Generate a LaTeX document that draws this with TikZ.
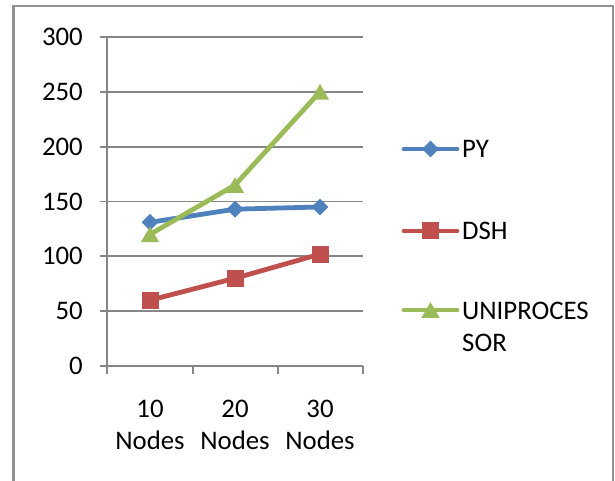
\documentclass[tikz,border=0pt]{standalone}
\usepackage{fontspec}
\setmainfont{Carlito}
\usepackage{xcolor}
\usepackage{tikz}
\usetikzlibrary{shapes.geometric}

\definecolor{pyblue}{HTML}{4F81BD}
\definecolor{dshred}{HTML}{C0504D}
\definecolor{unigreen}{HTML}{9BBB59}
\definecolor{gridgray}{HTML}{868686}

\tikzset{
    series/.style={line width=4.8pt, line join=round, line cap=round},
    pymark/.style={diamond, fill=pyblue, inner sep=0pt, minimum width=17pt, minimum height=17pt},
    dshmark/.style={rectangle, fill=dshred, inner sep=0pt, minimum size=17pt},
    unimark/.style={regular polygon, regular polygon sides=3, fill=unigreen, inner sep=0pt, minimum size=21pt, yshift=-2.6pt},
    lbl/.style={font=\fontsize{26.8}{32}\selectfont, inner sep=0pt},
}

\begin{document}
\begin{tikzpicture}[x=1pt, y=1pt]
    \useasboundingbox (0,0) rectangle (615,481);

    % Frame
    \draw[gridgray!90, line width=2.5pt] (13.5,-5) -- (13.5,475) -- (613,475) -- (613,-5);

    \begin{scope}[shift={(0,115)}, y=1.0967pt]
        % Grid and value labels
        \foreach \v in {0,50,...,300}
        {
            \draw[gridgray, line width=1.8pt] (100,\v) -- (363,\v);
            \node[lbl, anchor=east] (val\v) at (83,\v) {\v};
        }

        % Axes
        \draw[gridgray, line width=1.8pt] (107,0) -- (107,300);
        \foreach \t in {107,193,278,363}
            \draw[gridgray, line width=1.8pt] (\t,0) -- (\t,-7.5);

        % Categories
        \node[lbl, align=center, anchor=north] (cat10) at (150,-31.0) {10\\Nodes};
        \node[lbl, align=center, anchor=north] (cat20) at (235,-31.0) {20\\Nodes};
        \node[lbl, align=center, anchor=north] (cat30) at (320,-31.0) {30\\Nodes};

        % Series PY
        \coordinate (py1) at (150,131);
        \coordinate (py2) at (235,143);
        \coordinate (py3) at (320,145);
        \draw[series, pyblue] (py1) -- (py2) -- (py3);
        \node[pymark] (py1m) at (py1) {};
        \node[pymark] (py2m) at (py2) {};
        \node[pymark] (py3m) at (py3) {};

        % Series DSH
        \coordinate (dsh1) at (150,60);
        \coordinate (dsh2) at (235,80);
        \coordinate (dsh3) at (320,102);
        \draw[series, dshred] (dsh1) -- (dsh2) -- (dsh3);
        \node[dshmark] (dsh1m) at (dsh1) {};
        \node[dshmark] (dsh2m) at (dsh2) {};
        \node[dshmark] (dsh3m) at (dsh3) {};

        % Series UNIPROCESSOR
        \coordinate (uni1) at (150,120);
        \coordinate (uni2) at (235,165);
        \coordinate (uni3) at (320,250);
        \draw[series, unigreen] (uni1) -- (uni2) -- (uni3);
        \node[unimark] (uni1m) at (uni1) {};
        \node[unimark] (uni2m) at (uni2) {};
        \node[unimark] (uni3m) at (uni3) {};
    \end{scope}

    % Legend
    \coordinate (pyA) at (404,332);
    \coordinate (pyB) at (457,332);
    \draw[series, pyblue] (pyA) -- (pyB);
    \node[pymark] (pyL) at (430.5,332) {};
    \node[lbl, anchor=west] (pyT) at (462,332) {PY};

    \coordinate (dshA) at (404,250);
    \coordinate (dshB) at (457,250);
    \draw[series, dshred] (dshA) -- (dshB);
    \node[dshmark] (dshL) at (430.5,250) {};
    \node[lbl, anchor=west] (dshT) at (462,250) {DSH};

    \coordinate (uniA) at (404,171);
    \coordinate (uniB) at (457,171);
    \draw[series, unigreen] (uniA) -- (uniB);
    \node[unimark] (uniL) at (430.5,171) {};
    \node[lbl, align=left, anchor=north west] (uniT) at (462,179.5) {UNIPROCES\\SOR};
\end{tikzpicture}
\end{document}
